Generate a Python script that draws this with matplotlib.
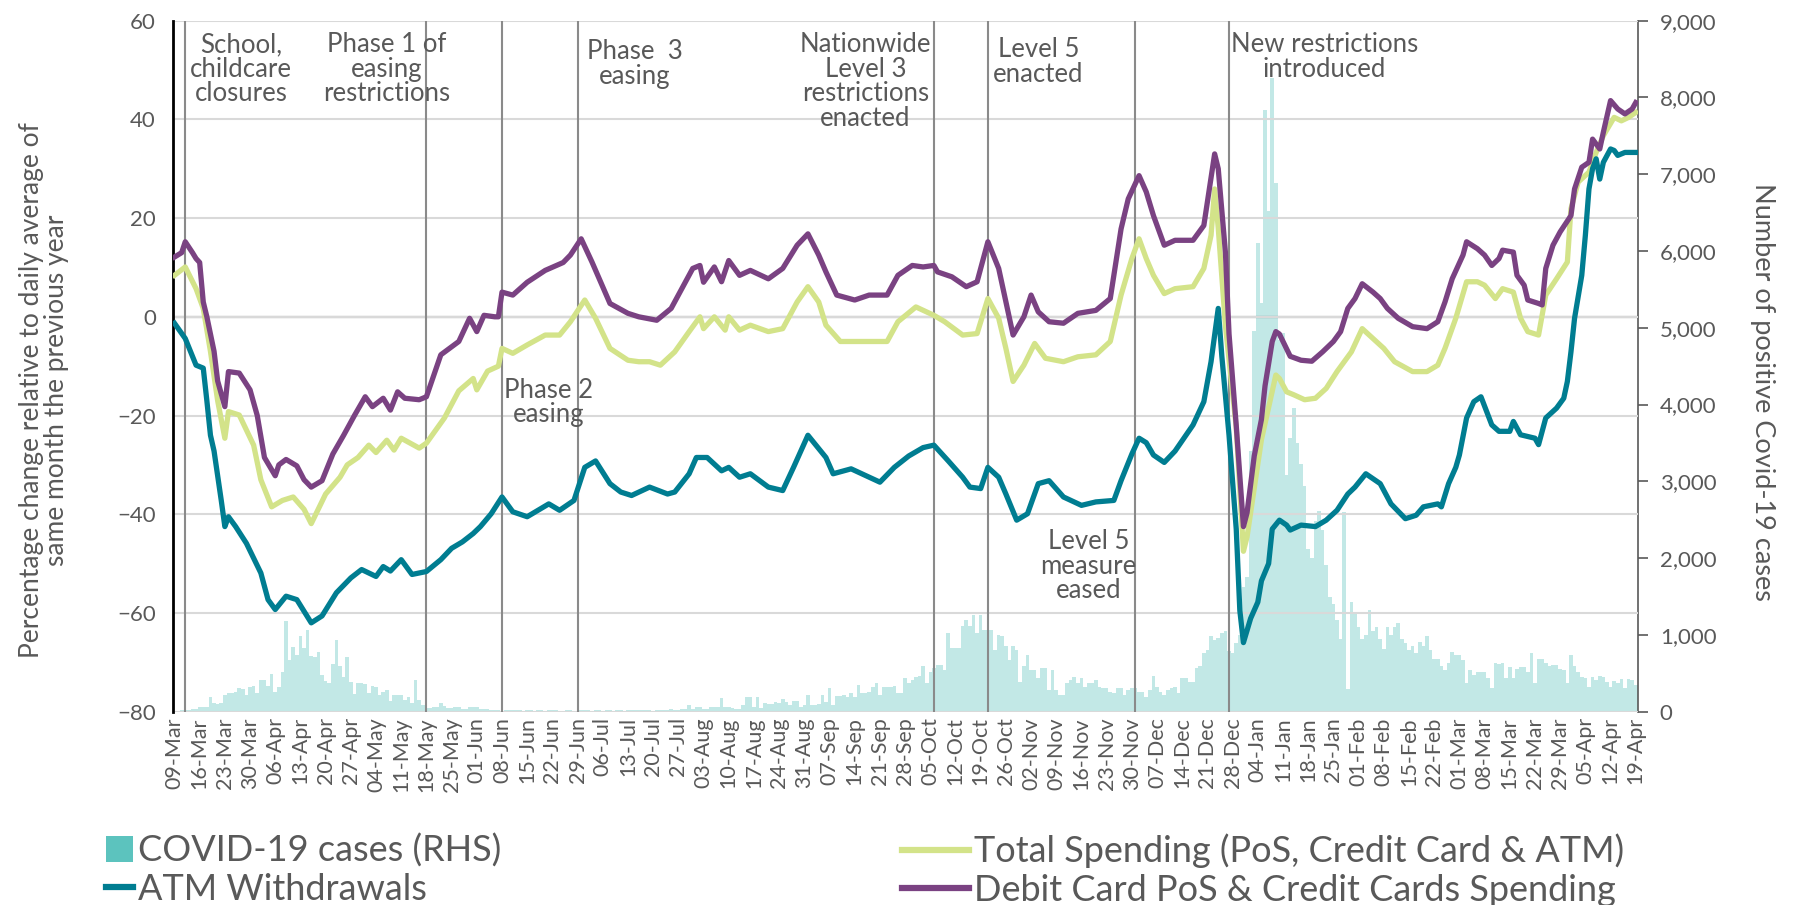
import matplotlib
matplotlib.use("Agg")
import matplotlib.pyplot as plt
import matplotlib.dates as mdates
from matplotlib.lines import Line2D
from matplotlib.patches import Patch
from matplotlib.ticker import FuncFormatter
import numpy as np
import pandas as pd

plt.rcParams['font.family'] = ['Lato', 'DejaVu Sans']

START = pd.Timestamp("2020-03-09")
END = pd.Timestamp("2021-04-19")

# daily COVID-19 cases from 09-Mar-2020 (right axis)
cases = [
    15, 15, 18, 20, 25, 30, 40, 65, 65, 65,
    196, 118, 100, 110, 218, 240, 240, 262, 305, 300,
    218, 318, 336, 240, 414, 414, 336, 493, 262, 327,
    523, 1177, 676, 841, 741, 981, 828, 1068, 719, 711,
    772, 480, 405, 379, 623, 929, 589, 458, 711, 392,
    231, 379, 379, 362, 240, 336, 318, 218, 262, 283,
    144, 218, 218, 218, 153, 187, 109, 414, 153, 87,
    44, 44, 65, 65, 109, 74, 44, 44, 57, 57,
    35, 35, 61, 61, 61, 35, 35, 35, 24, 18,
    20, 15, 24, 18, 22, 16, 20, 12, 18, 22,
    15, 20, 18, 12, 16, 20, 24, 14, 10, 18,
    22, 15, 12, 20, 18, 25, 14, 16, 20, 12,
    18, 22, 15, 20, 24, 14, 16, 22, 18, 20,
    25, 18, 22, 15, 20, 28, 24, 18, 30, 22,
    25, 30, 40, 87, 30, 65, 65, 30, 30, 57,
    65, 65, 174, 65, 65, 44, 30, 30, 87, 196,
    196, 65, 196, 44, 118, 100, 100, 131, 118, 161,
    131, 87, 144, 144, 65, 87, 218, 87, 87, 96,
    218, 131, 305, 87, 205, 205, 218, 196, 248, 196,
    349, 240, 240, 262, 327, 379, 218, 327, 327, 327,
    336, 240, 240, 436, 379, 414, 449, 466, 597, 371,
    523, 570, 610, 610, 545, 1025, 828, 828, 828, 1112,
    1199, 1112, 1264, 1025, 1264, 1068, 1068, 1068, 807, 1003,
    981, 850, 676, 850, 807, 392, 589, 741, 545, 545,
    436, 567, 567, 283, 545, 283, 218, 218, 371, 414,
    458, 371, 436, 327, 371, 371, 414, 327, 305, 305,
    262, 240, 305, 305, 218, 283, 305, 305, 262, 262,
    196, 283, 466, 327, 262, 218, 283, 305, 327, 240,
    436, 436, 392, 392, 567, 589, 763, 807, 981, 938,
    959, 1025, 1046, 785, 765, 900, 1000, 1620, 1754, 3394,
    4962, 6110, 5325, 7836, 6521, 8248, 6888, 4842, 4929, 3086,
    3569, 3955, 3498, 3231, 2944, 2121, 2001, 2488, 2608, 2371,
    1910, 1500, 1400, 1200, 950, 2600, 300, 1430, 1300, 1100,
    950, 1000, 1320, 1050, 1100, 950, 820, 1100, 1000, 1100,
    1150, 950, 900, 800, 850, 763, 902, 850, 990, 800,
    685, 685, 600, 545, 632, 772, 741, 741, 676, 371,
    545, 480, 523, 523, 523, 436, 305, 632, 623, 632,
    436, 580, 436, 554, 580, 580, 523, 763, 371, 685,
    685, 632, 589, 610, 610, 554, 545, 371, 741, 589,
    523, 458, 436, 318, 449, 414, 466, 458, 392, 318,
    405, 379, 423, 305, 423, 414, 350,
]

# (days since 09-Mar-2020, % change)
total_pts = [
    (0, 8.4), (3, 10.1), (6, 5.7), (8, 1.7), (10, -7), (12, -17), (14, -24.6), (15, -19.2),
    (18, -19.9), (22, -26), (24, -33), (27, -38.5), (30, -37.2), (33, -36.5), (36, -39),
    (38, -41.9), (42, -35.9), (46, -32.5), (48, -30), (51, -28.5), (54, -26), (56, -27.5),
    (59, -25), (61, -27), (63, -24.6), (68, -26.6), (70, -25.6), (75, -20.5), (79, -15),
    (83, -12.5), (84, -14.8), (87, -11), (90, -10), (91, -6.4), (94, -7.4), (98, -5.7),
    (103, -3.7), (107, -3.7), (110, -1), (114, 3.4), (117, -0.3), (121, -6.4), (126, -8.8),
    (129, -9.1), (132, -9.1), (135, -9.8), (139, -7.1), (143, -3), (146, 0), (147, -2.4),
    (150, 0), (153, -2.7), (154, 0), (157, -2.7), (160, -1.7), (165, -3), (169, -2.4),
    (173, 3), (176, 6.1), (179, 3), (181, -1.7), (185, -5), (191, -5), (198, -5), (201, -1),
    (206, 2), (211, 0.3), (214, -1), (219, -3.7), (223, -3.4), (226, 3.7), (229, -0.3),
    (231, -6.4), (233, -13.1), (236, -9.8), (239, -5.4), (242, -8.4), (247, -9.1),
    (251, -8.1), (256, -7.7), (260, -5), (263, 4.4), (266, 11.8), (268, 15.8), (270, 11.8),
    (272, 8.4), (275, 4.7), (278, 5.7), (283, 6.1), (286, 9.8), (288, 16.5), (289, 25.9),
    (290, 18), (292, -1.8), (295, -22.4), (297, -47.5), (298, -44.6), (300, -34.8),
    (302, -24.9), (304, -18.3), (306, -11.8), (307, -12.5), (309, -15.2), (311, -15.8),
    (314, -16.8), (317, -16.5), (320, -14.5), (323, -11.1), (327, -7.1), (330, -2.4),
    (333, -4.4), (336, -6.4), (339, -9.1), (344, -11.1), (348, -11.1), (351, -9.8),
    (353, -6.4), (356, -0.3), (359, 7.1), (362, 7.1), (364, 6.4), (367, 3.7), (369, 5.7),
    (372, 5), (374, -0.3), (376, -3), (379, -3.7), (381, 4.4), (384, 7.7), (387, 11.1),
    (388, 21.9), (390, 27.3), (393, 29.3), (395, 33.3), (397, 36.7), (400, 40.4),
    (402, 39.7), (404, 40.4), (406, 41.4),
]

atm_pts = [
    (0, -1.3), (3, -4.4), (6, -9.8), (8, -10.4), (9, -17), (10, -24), (11, -27.2), (13, -37.2),
    (14, -42.5), (15, -40.5), (17, -42.5), (20, -45.9), (24, -51.9), (26, -57.3), (28, -59.3),
    (31, -56.6), (34, -57.3), (38, -62), (41, -60.6), (45, -55.9), (49, -52.9), (52, -51.2),
    (56, -52.6), (58, -50.6), (60, -51.5), (63, -49.2), (66, -52.2), (70, -51.6), (74, -49.2),
    (77, -46.9), (80, -45.6), (83, -43.9), (85, -42.5), (88, -39.9), (91, -36.5), (94, -39.5),
    (98, -40.5), (104, -37.9), (107, -39.2), (111, -37.2), (114, -30.5), (117, -29.2),
    (121, -33.8), (124, -35.5), (127, -36.2), (132, -34.5), (137, -35.9), (139, -35.5),
    (143, -31.8), (145, -28.5), (148, -28.5), (152, -31.2), (154, -30.5), (157, -32.5),
    (160, -31.8), (165, -34.5), (169, -35.2), (172, -30.5), (176, -24), (181, -28.5),
    (183, -31.8), (188, -30.8), (193, -32.5), (196, -33.5), (200, -30.5), (204, -28.2),
    (208, -26.5), (211, -26), (215, -29.2), (219, -32.5), (221, -34.5), (224, -34.8),
    (226, -30.5), (229, -32.5), (231, -35.9), (234, -41.2), (237, -39.9), (240, -33.8),
    (243, -33.2), (247, -36.5), (252, -38.2), (256, -37.5), (261, -37.2), (263, -33.2),
    (266, -27.8), (268, -24.6), (270, -25.5), (272, -28), (275, -29.5), (278, -27.2),
    (283, -21.9), (286, -17.2), (288, -9.1), (290, 1.7), (291, -8), (293, -24), (295, -43),
    (296, -59.5), (297, -66), (299, -61.1), (301, -57.8), (302, -53.5), (304, -50),
    (305, -43), (307, -41.2), (309, -42.2), (310, -43.2), (313, -42.2), (317, -42.5),
    (320, -41.2), (323, -39.2), (326, -35.9), (328, -34.5), (331, -31.8), (335, -33.8),
    (338, -37.9), (342, -40.9), (345, -40.2), (347, -38.5), (351, -37.9), (352, -38.5),
    (354, -33.8), (356, -30.5), (357, -28), (359, -20.5), (361, -17.2), (363, -16.2),
    (366, -21.9), (368, -23.2), (371, -23.2), (372, -21.2), (374, -23.9), (378, -24.6),
    (379, -25.9), (381, -20.5), (384, -18.5), (386, -16.5), (387, -13.1), (388, -7.1),
    (389, -0.3), (391, 8.4), (392, 16.5), (393, 25.9), (394, 30), (395, 32), (396, 27.9),
    (397, 31.3), (399, 34), (400, 33.7), (401, 32.7), (403, 33.3), (406, 33.3),
]

debit_pts = [
    (0, 12.1), (2, 13), (3, 15.2), (5, 13), (6, 11.8), (7, 11), (8, 3), (9, 0), (11, -7),
    (12, -13), (14, -18.2), (15, -11.1), (18, -11.4), (21, -14.8), (23, -20), (25, -28.5),
    (28, -32.2), (29, -30), (31, -28.9), (34, -30.2), (36, -33), (38, -34.5), (41, -33.2),
    (44, -27.8), (47, -24), (50, -20), (53, -16.2), (55, -18.2), (58, -16.5), (60, -18.9),
    (62, -15.2), (64, -16.5), (68, -16.8), (70, -16.2), (74, -7.7), (79, -5), (82, -0.3),
    (84, -3), (86, 0.3), (89, 0), (90, 0), (91, 5), (94, 4.4), (98, 7), (103, 9.4),
    (108, 11), (110, 12.5), (113, 15.8), (116, 11.1), (121, 2.7), (126, 0.7), (129, 0),
    (134, -0.7), (138, 1.7), (144, 9.8), (146, 10.4), (147, 7), (150, 10.1), (152, 7.1),
    (154, 11.4), (157, 8.4), (160, 9.4), (165, 7.7), (169, 9.8), (173, 14.5), (176, 16.8),
    (179, 12.5), (181, 9.1), (184, 4.4), (189, 3.4), (193, 4.4), (198, 4.4), (201, 8.4),
    (205, 10.4), (208, 10.1), (211, 10.4), (212, 9.1), (216, 8.1), (220, 6.1), (223, 7.1),
    (226, 15.2), (229, 9.8), (231, 3), (233, -3.7), (236, 0), (238, 4.4), (240, 1),
    (243, -1), (247, -1.3), (251, 0.7), (256, 1.3), (260, 3.7), (263, 17.8), (265, 23.9),
    (268, 28.6), (270, 25.3), (272, 20.5), (275, 14.5), (278, 15.5), (283, 15.5),
    (286, 18.5), (289, 33), (290, 30), (292, 13), (293, -3.5), (295, -22), (297, -42.5),
    (298, -39.7), (300, -28.2), (302, -20.8), (303, -14), (305, -5), (306, -3), (307, -3.5),
    (309, -6.5), (310, -8), (313, -8.8), (316, -9), (319, -7.1), (322, -5), (324, -3),
    (326, 1.7), (328, 3.7), (330, 6.7), (333, 5), (335, 3.7), (337, 1.7), (340, -0.3),
    (344, -2), (348, -2.4), (351, -1), (353, 3), (355, 7.7), (358, 12.5), (359, 15.2),
    (362, 13.8), (364, 12.5), (366, 10.4), (368, 11.8), (369, 13.5), (372, 13.1),
    (373, 8.4), (375, 6.4), (376, 3.4), (379, 2.7), (380, 2.4), (381, 9.8), (383, 14.5),
    (385, 17.2), (388, 20.5), (389, 25.9), (391, 30.3), (393, 31.3), (394, 36), (396, 34),
    (397, 37.4), (399, 43.8), (401, 42.1), (403, 41.1), (405, 42.1), (406, 43.4),
]

event_dates = ["2020-03-12", "2020-05-18", "2020-06-08", "2020-06-29",
               "2020-10-06", "2020-10-21", "2020-12-01", "2020-12-27"]

TEAL = "#007d91"
LIME = "#d3e389"
PURPLE = "#7a4282"
BAR = "#c2e8e6"
BAR_KEY = "#5cc3be"
GREY = "#595959"


def to_dates(days):
    return np.datetime64(START.date()) + np.array(days).astype("timedelta64[D]")


fig = plt.figure(figsize=(17.93, 9.05), dpi=100)
fig.patch.set_facecolor("white")
ax = fig.add_axes([0.0963, 0.2136, 0.817, 0.7636])
ax2 = ax.twinx()
ax.set_zorder(2)
ax.patch.set_visible(False)

# bars on the right axis
bar_x = to_dates(range(len(cases)))
ax2.bar(bar_x, cases, width=1.0, color=BAR, linewidth=0, align="center")
ax2.set_ylim(0, 9000)
ax2.set_yticks(range(0, 9001, 1000))
ax2.yaxis.set_major_formatter(FuncFormatter(lambda v, p: f"{v:,.0f}"))
ax2.tick_params(axis="y", direction="out", length=7, width=1.2, color=GREY,
                labelcolor=GREY, labelsize=16, pad=9)
for s in ["top", "left", "bottom"]:
    ax2.spines[s].set_visible(False)
ax2.spines["right"].set_color(GREY)
ax2.spines["right"].set_linewidth(1.2)
ax2.set_ylabel("Number of positive Covid-19 cases", fontsize=19.5, color=GREY,
               rotation=270, va="bottom")
ax2.yaxis.set_label_coords(1.077, 0.462)

# lines on the left axis
ax.set_ylim(-80, 60)
ax.set_yticks(range(-80, 61, 20))
ax.yaxis.grid(True, color="#d9d9d9", lw=1.5, zorder=0)
ax.axhline(0, color="black", lw=1.5, zorder=1.5)
for d in event_dates:
    ax.axvline(np.datetime64(d), color="#8a8a8a", lw=1.5, zorder=1.6)

for pts, col in [(total_pts, LIME), (atm_pts, TEAL), (debit_pts, PURPLE)]:
    days, vals = zip(*pts)
    ax.plot(to_dates(days), vals, color=col, lw=3.8, solid_joinstyle="round", zorder=3)

ax.set_xlim(np.datetime64(START.date()) - np.timedelta64(12, "h"),
            np.datetime64(END.date()) + np.timedelta64(12, "h"))
ax.set_xticks(pd.date_range(START, END, freq="7D"))
ax.xaxis.set_major_formatter(mdates.DateFormatter("%d-%b"))
ax.tick_params(axis="x", length=0, labelrotation=90, labelsize=15.5, labelcolor=GREY, pad=4)
ax.tick_params(axis="y", length=0, labelsize=16, labelcolor=GREY, pad=12)
for s in ["top", "right", "bottom"]:
    ax.spines[s].set_visible(False)
ax.spines["left"].set_color("black")
ax.spines["left"].set_linewidth(2)

ax.set_ylabel("Percentage change relative to daily average of\nsame month the previous year",
              fontsize=19, color=GREY, linespacing=1.0)
ax.yaxis.set_label_coords(-0.071, 0.465)

notes = [
    ("School,\nchildcare\nclosures", "2020-03-27T12", 57.7),
    ("Phase 1 of\neasing\nrestrictions", "2020-05-07", 57.7),
    ("Phase 2\neasing", "2020-06-21", -12.3),
    ("Phase  3\neasing", "2020-07-15", 56.2),
    ("Nationwide\nLevel 3\nrestrictions\nenacted", "2020-09-17", 57.7),
    ("Level 5\nenacted", "2020-11-04", 56.7),
    ("Level 5\nmeasure\neased", "2020-11-18", -43),
    ("New restrictions\nintroduced", "2021-01-22T12", 57.7),
]
for txt, d, y in notes:
    ax.text(np.datetime64(d), y, txt, ha="center", va="top", fontsize=18.5,
            color=GREY, linespacing=0.98, zorder=4)

left_handles = [Patch(facecolor=BAR_KEY, edgecolor="none"),
                Line2D([], [], color=TEAL, lw=4.5)]
right_handles = [Line2D([], [], color=LIME, lw=4.5),
                 Line2D([], [], color=PURPLE, lw=4.5)]
leg_kw = dict(loc="upper left", frameon=False, fontsize=26, labelcolor=GREY,
              labelspacing=0.15, borderpad=0, borderaxespad=0, handletextpad=0.15)
fig.legend(left_handles, ["COVID-19 cases (RHS)", "ATM Withdrawals"],
           bbox_to_anchor=(0.059, 0.079), handlelength=0.75, **leg_kw)
fig.legend(right_handles, ["Total Spending (PoS, Credit Card & ATM)",
                           "Debit Card PoS & Credit Cards Spending"],
           bbox_to_anchor=(0.503, 0.079), handlelength=1.85, **leg_kw)

fig.savefig("out.png", dpi=100, facecolor="white")
